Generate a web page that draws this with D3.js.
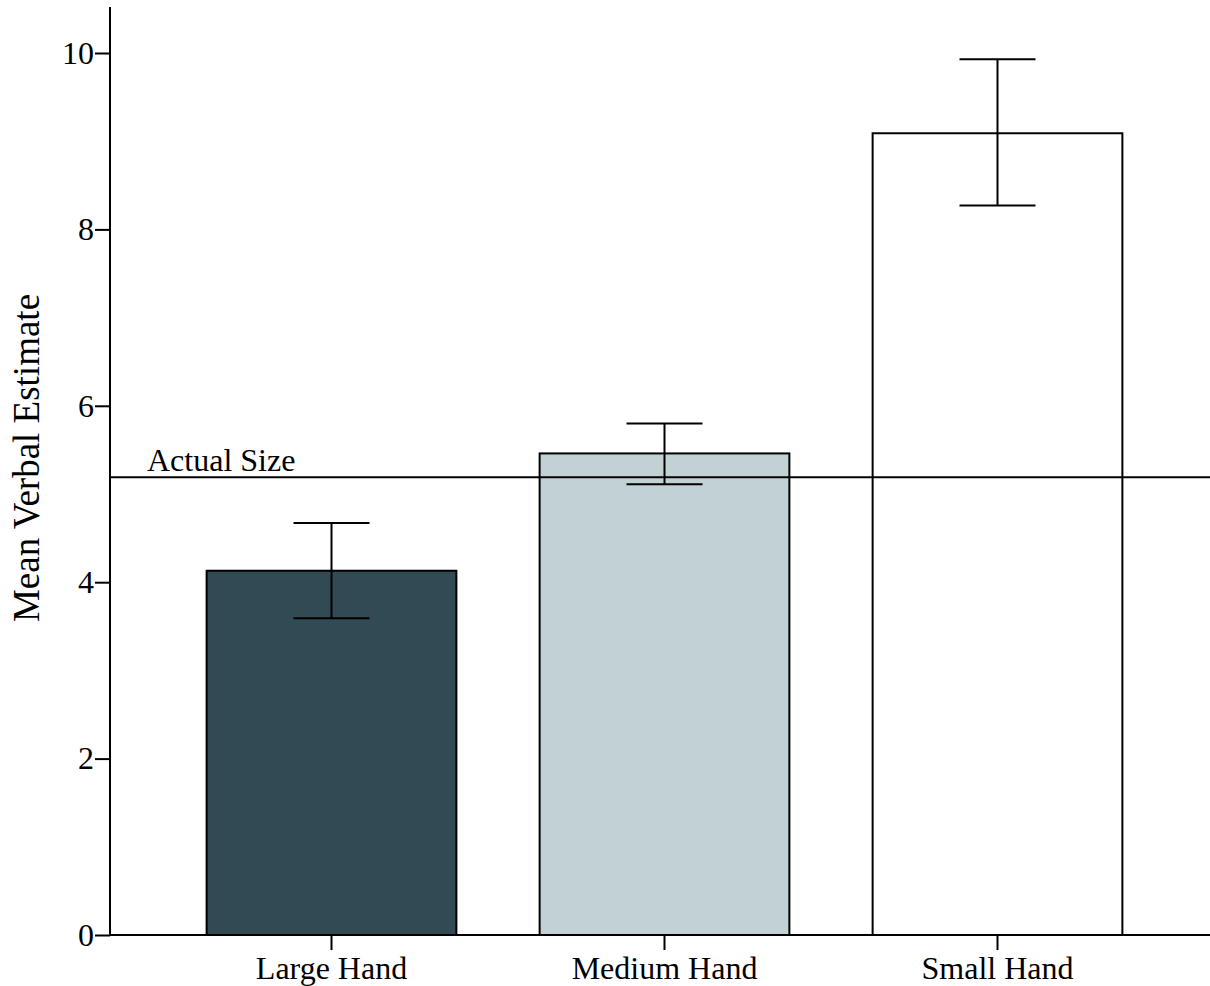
<!DOCTYPE html>
<html><head><meta charset="utf-8">
<script src="https://cdn.jsdelivr.net/npm/d3@7"></script>
<style>body{margin:0;background:#fff}svg{display:block}</style>
</head><body><svg id="c" width="1210" height="986"></svg>
<script>
const categories = ["Large Hand", "Medium Hand", "Small Hand"];
const means = [4.13, 5.46, 9.09];
const errUpper = [4.67, 5.80, 9.93];
const errLower = [3.59, 5.11, 8.27];
const barColors = ["#324a53", "#c2d1d4", "#ffffff"];
const yTicks = [0, 2, 4, 6, 8, 10];
const actualSize = 5.19;

const FONT = '"Liberation Serif"';
const svg = d3.select("#c");
const x = d3.scaleBand().domain(categories).range([165, 1164]).paddingInner(0.25).paddingOuter(0.125);
const y = d3.scaleLinear().domain([0, 10]).range([935, 53]);

// bars
svg.selectAll("rect.bar").data(categories).enter().append("rect")
  .attr("x", d => x(d)).attr("width", x.bandwidth())
  .attr("y", (d, i) => y(means[i])).attr("height", (d, i) => y(0) - y(means[i]))
  .attr("fill", (d, i) => barColors[i]).attr("stroke", "#000").attr("stroke-width", 2);

// reference line
svg.append("line").attr("x1", 110).attr("x2", 1210).attr("y1", y(actualSize)).attr("y2", y(actualSize))
  .attr("stroke", "#000").attr("stroke-width", 2);
svg.append("text").attr("x", 147).attr("y", y(actualSize) - 6)
  .style("font-family", FONT).style("font-size", "32px").style("fill", "#000").text("Actual Size");

// error bars
const cap = 38;
categories.forEach((c, i) => {
  const cx = x(c) + x.bandwidth() / 2;
  const g = svg.append("g").attr("stroke", "#000").attr("stroke-width", 2);
  g.append("line").attr("x1", cx).attr("x2", cx).attr("y1", y(errUpper[i])).attr("y2", y(errLower[i]));
  g.append("line").attr("x1", cx - cap).attr("x2", cx + cap).attr("y1", y(errUpper[i])).attr("y2", y(errUpper[i]));
  g.append("line").attr("x1", cx - cap).attr("x2", cx + cap).attr("y1", y(errLower[i])).attr("y2", y(errLower[i]));
});

// y axis
const ya = svg.append("g").attr("transform", "translate(110,0)")
  .call(d3.axisLeft(y).tickValues(yTicks).tickSize(15).tickPadding(1).tickFormat(d3.format("d")));
ya.attr("font-family", null).attr("font-size", null);
ya.select(".domain").remove();
ya.selectAll(".tick line").attr("stroke", "#000").attr("stroke-width", 2);
ya.selectAll(".tick text").style("font-size", "32px").style("font-family", FONT).style("fill", "#000");
svg.append("line").attr("x1", 110).attr("x2", 110).attr("y1", 7).attr("y2", 936).attr("stroke", "#000").attr("stroke-width", 2);

// x axis
const xa = svg.append("g").attr("transform", "translate(0,935)")
  .call(d3.axisBottom(x).tickSize(15).tickPadding(6));
xa.attr("font-family", null).attr("font-size", null);
xa.select(".domain").remove();
xa.selectAll(".tick line").attr("stroke", "#000").attr("stroke-width", 2);
xa.selectAll(".tick text").style("font-size", "32px").style("font-family", FONT).style("fill", "#000");
svg.append("line").attr("x1", 109).attr("x2", 1210).attr("y1", 935).attr("y2", 935).attr("stroke", "#000").attr("stroke-width", 2);

// y title
svg.append("text").attr("transform", "translate(39,458) rotate(-90)").attr("text-anchor", "middle")
  .style("font-family", FONT).style("font-size", "37px").style("fill", "#000").text("Mean Verbal Estimate");
</script></body></html>
